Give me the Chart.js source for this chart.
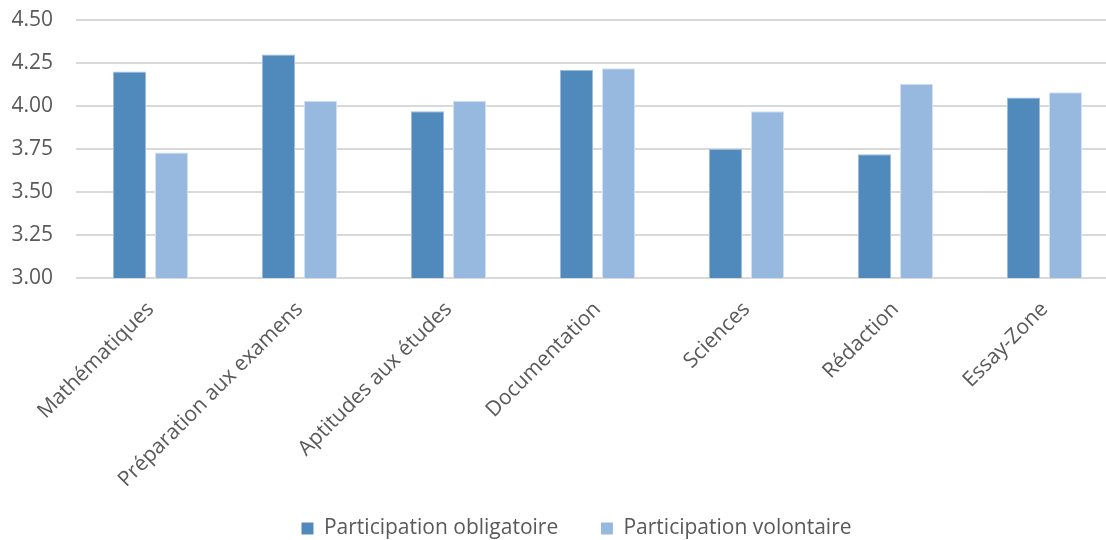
<!DOCTYPE html>
<html>
<head>
<meta charset="utf-8">
<script src="https://cdn.jsdelivr.net/npm/chart.js@4/dist/chart.umd.min.js"></script>
<style>
  html, body { margin: 0; padding: 0; background: #ffffff; overflow: hidden; width: 1106px; height: 540px; }
  canvas { display: block; }
</style>
</head>
<body>
<canvas id="c" width="1153" height="540"></canvas>
<script>
const categories = ["Mathématiques", "Préparation aux examens", "Aptitudes aux études", "Documentation", "Sciences", "Rédaction", "Essay-Zone"];
const obligatoire = [4.20, 4.30, 3.97, 4.21, 3.75, 3.72, 4.05];
const volontaire = [3.73, 4.03, 4.03, 4.22, 3.97, 4.13, 4.08];
const seriesNames = ["Participation obligatoire", "Participation volontaire"];
const yTicks = [3.00, 3.25, 3.50, 3.75, 4.00, 4.25, 4.50];

const FONT = "'Open Sans', 'DejaVu Sans', sans-serif";
const TEXT = "#595959";
const COLORS = ['#508ABD', '#98B9DF'];

new Chart(document.getElementById('c'), {
  type: 'bar',
  data: {
    labels: categories,
    datasets: [
      { label: seriesNames[0], data: obligatoire, backgroundColor: COLORS[0], borderColor: '#9DBCDD', borderWidth: 1, categoryPercentage: 0.564, barPercentage: 0.786 },
      { label: seriesNames[1], data: volontaire, backgroundColor: COLORS[1], borderColor: '#D3E1F1', borderWidth: 1, categoryPercentage: 0.564, barPercentage: 0.786 }
    ]
  },
  options: {
    responsive: false,
    animation: false,
    devicePixelRatio: 1,
    layout: { padding: { left: 0, right: 0, top: 20, bottom: -9 } },
    plugins: {
      legend: {
        position: 'bottom',
        labels: {
          font: { family: FONT, size: 21 },
          color: TEXT,
          boxWidth: 12,
          boxHeight: 12,
          padding: 10,
          generateLabels: (chart) => chart.data.datasets.map((ds, i) => ({
            text: i === 0 ? ds.label + '      ' : ds.label,
            fillStyle: COLORS[i],
            strokeStyle: COLORS[i],
            lineWidth: 0,
            fontColor: TEXT,
            hidden: false,
            datasetIndex: i
          }))
        }
      },
      tooltip: { enabled: false }
    },
    scales: {
      x: {
        grid: { display: false },
        border: { display: false },
        ticks: {
          font: { family: FONT, size: 21 },
          color: TEXT,
          minRotation: 45,
          maxRotation: 45,
          autoSkip: false,
          padding: 11
        },
        afterFit: (axis) => { axis.height = 230; axis.paddingLeft = 0; axis.paddingRight = 0; }
      },
      y: {
        min: 3,
        max: 4.5,
        afterBuildTicks: (axis) => { axis.ticks = yTicks.map(v => ({ value: v })); },
        grid: { color: '#D9D9D9', lineWidth: 2, drawTicks: false },
        border: { display: false },
        ticks: {
          font: { family: FONT, size: 21 },
          color: TEXT,
          padding: 23,
          callback: (v) => Number(v).toFixed(2)
        },
        afterFit: (axis) => { axis.width = 76; axis.paddingTop = 0; axis.paddingBottom = 0; }
      },
      yRightSpace: {
        type: 'linear',
        position: 'right',
        display: true,
        grid: { display: false },
        border: { display: false },
        ticks: { display: false },
        afterFit: (axis) => { axis.width = 34; axis.paddingTop = 0; axis.paddingBottom = 0; }
      }
    }
  }
});
</script>
</body>
</html>
